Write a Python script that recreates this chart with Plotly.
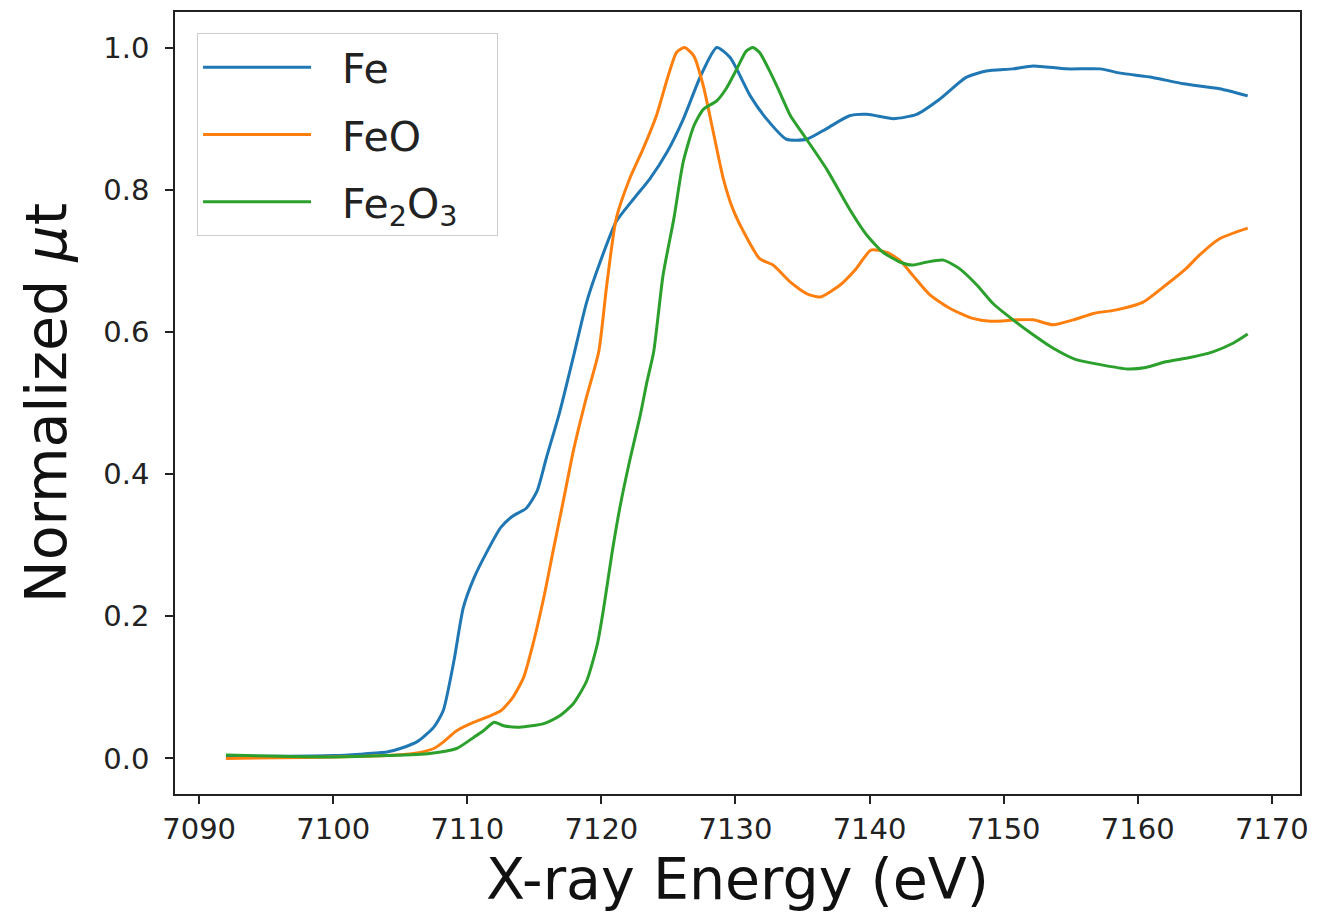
import plotly.graph_objects as go

# ---- data ----
fe_E = [7092.0, 7096.0, 7100.0, 7102.0, 7104.0, 7105.0, 7106.3, 7107.5, 7108.2, 7109.0, 7109.7,
        7110.5, 7111.5, 7112.5, 7113.4, 7114.4, 7115.2, 7115.9, 7116.9, 7118.0, 7118.9,
        7119.9, 7121.1, 7122.4, 7123.6, 7124.9, 7126.1, 7127.4, 7128.6, 7129.6, 7131.1,
        7132.3, 7133.8, 7135.3, 7136.8, 7138.5, 7139.8, 7141.8, 7143.5, 7145.2, 7147.2,
        7148.7, 7150.7, 7152.2, 7154.7, 7157.2, 7158.7, 7161.1, 7163.4, 7166.1, 7168.2]
fe_mu = [0.003, 0.003, 0.004, 0.006, 0.009, 0.014, 0.024, 0.044, 0.067, 0.137, 0.212,
         0.254, 0.292, 0.325, 0.341, 0.352, 0.376, 0.423, 0.488, 0.572, 0.642,
         0.698, 0.755, 0.787, 0.815, 0.853, 0.899, 0.960, 1.000, 0.986, 0.932,
         0.900, 0.871, 0.871, 0.886, 0.904, 0.906, 0.900, 0.906, 0.927, 0.958,
         0.967, 0.970, 0.974, 0.970, 0.970, 0.964, 0.958, 0.949, 0.942, 0.932]

feo_E = [7092.0, 7096.0, 7100.0, 7104.0, 7106.0, 7107.5, 7108.2, 7109.2, 7110.5, 7111.7,
         7112.5, 7113.4, 7114.2, 7114.9, 7115.7, 7116.4, 7117.2, 7117.9, 7118.8, 7119.8,
         7120.4, 7121.1, 7122.1, 7123.1, 7124.1, 7124.9, 7125.6, 7126.2, 7126.9, 7127.6,
         7128.3, 7129.1, 7129.8, 7130.6, 7131.8, 7132.8, 7134.1, 7135.3, 7136.3, 7137.8,
         7139.0, 7140.1, 7141.3, 7142.3, 7143.2, 7144.5, 7146.0, 7147.7, 7149.0, 7151.0,
         7152.2, 7153.7, 7155.2, 7156.7, 7158.4, 7160.4, 7162.1, 7163.6, 7164.6, 7166.1, 7168.2]
feo_mu = [0.000, 0.001, 0.002, 0.004, 0.007, 0.014, 0.023, 0.039, 0.051, 0.060,
          0.067, 0.086, 0.114, 0.161, 0.226, 0.292, 0.366, 0.432, 0.502, 0.572,
          0.666, 0.759, 0.815, 0.857, 0.904, 0.955, 0.993, 1.000, 0.988, 0.946,
          0.885, 0.815, 0.773, 0.741, 0.703, 0.694, 0.670, 0.654, 0.649, 0.666,
          0.689, 0.715, 0.712, 0.700, 0.680, 0.652, 0.633, 0.619, 0.615, 0.617,
          0.617, 0.610, 0.617, 0.626, 0.631, 0.642, 0.666, 0.689, 0.708, 0.731, 0.746]

fe2o3_E = [7092.0, 7096.0, 7100.0, 7104.0, 7107.2, 7109.2, 7110.5, 7111.2, 7112.0, 7112.7,
           7113.9, 7115.7, 7116.9, 7117.9, 7118.9, 7119.7, 7120.2, 7120.8, 7121.4, 7122.1,
           7122.9, 7123.4, 7123.9, 7124.6, 7125.4, 7126.1, 7126.9, 7127.6, 7128.6, 7129.3,
           7130.1, 7130.8, 7131.3, 7131.8, 7132.6, 7133.3, 7134.1, 7135.3, 7136.8, 7138.5,
           7139.8, 7141.0, 7142.3, 7143.2, 7144.2, 7145.5, 7146.7, 7148.0, 7149.2, 7150.7,
           7152.2, 7153.7, 7155.4, 7157.2, 7159.2, 7160.6, 7162.1, 7163.9, 7165.6, 7167.1, 7168.2]
fe2o3_mu = [0.005, 0.003, 0.002, 0.004, 0.007, 0.014, 0.030, 0.039, 0.051, 0.046,
            0.044, 0.049, 0.060, 0.077, 0.109, 0.161, 0.215, 0.290, 0.355, 0.418,
            0.483, 0.530, 0.572, 0.680, 0.759, 0.839, 0.890, 0.913, 0.925, 0.942,
            0.970, 0.995, 1.000, 0.993, 0.965, 0.937, 0.904, 0.871, 0.829, 0.773,
            0.736, 0.712, 0.698, 0.694, 0.698, 0.701, 0.689, 0.666, 0.640, 0.617,
            0.596, 0.577, 0.561, 0.554, 0.548, 0.550, 0.558, 0.564, 0.572, 0.584, 0.597]

NB = "\u00a0"
series_names = [NB * 2 + "Fe", NB * 2 + "FeO", NB * 2 + "Fe<sub>2</sub>O<sub>3</sub>" + NB * 2 + "\u2009"]
series_colors = ["#1f77b4", "#ff7f0e", "#2ca02c"]
x_ticks = [7090, 7100, 7110, 7120, 7130, 7140, 7150, 7160, 7170]
y_ticks = [0.0, 0.2, 0.4, 0.6, 0.8, 1.0]

FONT = "DejaVu Sans"

fig = go.Figure()
for i, (E, mu) in enumerate([(fe_E, fe_mu), (feo_E, feo_mu), (fe2o3_E, fe2o3_mu)]):
    fig.add_trace(go.Scatter(
        x=E, y=mu, mode="lines", name=series_names[i],
        line=dict(color=series_colors[i], width=3, shape="spline", smoothing=0.6),
        legendgroup=f"g{i}",
    ))

fig.update_layout(
    width=1321, height=917,
    margin=dict(l=175, r=21, t=10, b=123),
    paper_bgcolor="white", plot_bgcolor="white",
    font=dict(family=FONT, color="#222222"),
    showlegend=True,
    legend=dict(
        x=0.0196, y=0.973, xanchor="left", yanchor="top",
        bgcolor="rgba(255,255,255,0.8)", bordercolor="#cccccc", borderwidth=1,
        font=dict(family=FONT, size=41, color="#222222"),
        itemwidth=108, tracegroupgap=11,
    ),
    xaxis=dict(
        range=[7088.2, 7172.1], tickmode="array", tickvals=x_ticks,
        ticktext=[str(v) for v in x_ticks],
        showline=True, linecolor="#222222", linewidth=1.5, mirror=True,
        ticks="outside", ticklen=8, tickwidth=1.5, tickcolor="#222222",
        showgrid=False, zeroline=False,
        tickfont=dict(family=FONT, size=29, color="#222222"),
        title=dict(text="X-ray Energy (eV)", font=dict(family=FONT, size=57, color="#111111"), standoff=6),
    ),
    yaxis=dict(
        range=[-0.05, 1.05], tickmode="array", tickvals=y_ticks,
        ticktext=[f"{v:.1f}" for v in y_ticks],
        showline=True, linecolor="#222222", linewidth=1.5, mirror=True,
        ticks="outside", ticklen=8, tickwidth=1.5, tickcolor="#222222",
        showgrid=False, zeroline=False, ticklabelstandoff=10,
        tickfont=dict(family=FONT, size=29, color="#222222"),
        title=dict(text="Normalized <i>μ</i>t", font=dict(family=FONT, size=57, color="#111111"), standoff=18),
    ),
)

fig.write_html("out.html")
